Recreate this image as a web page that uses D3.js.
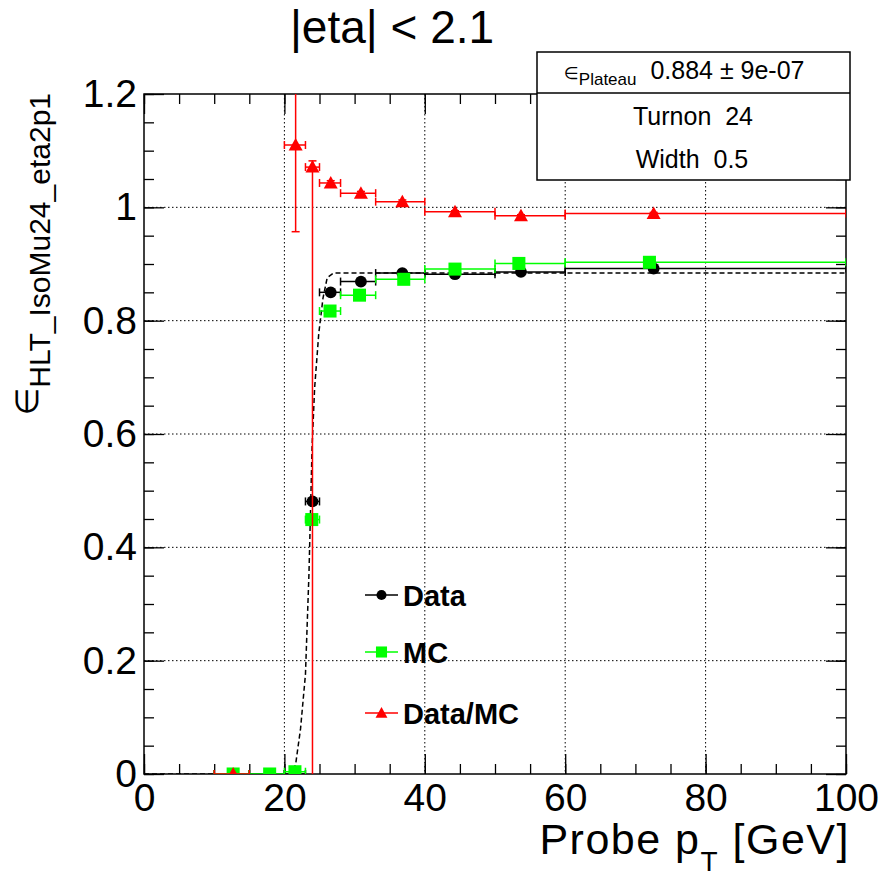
<!DOCTYPE html>
<html><head><meta charset="utf-8">
<script src="https://cdn.jsdelivr.net/npm/d3@7"></script>
<style>body{margin:0;background:#fff}svg{display:block}text{font-family:"Liberation Sans",Arial,sans-serif}</style>
</head><body><svg id="c" width="883" height="877"></svg>
<script>
// ---- data ----
const binLo = [10, 15, 20, 23, 25, 28, 33, 40, 50, 60];
const binHi = [15, 20, 23, 25, 28, 33, 40, 50, 60, 100];
const dataX = [12.7, 17.9, 21.5, 24.0, 26.6, 30.9, 36.8, 44.3, 53.7, 72.6];
const dataY = [0, 0, 0, 0.481, 0.850, 0.869, 0.884, 0.882, 0.886, 0.892];
const mcX = [12.7, 17.9, 21.5, 23.9, 26.5, 30.7, 37.0, 44.3, 53.4, 72.0];
const mcY = [0, 0, 0.004, 0.449, 0.817, 0.845, 0.873, 0.891, 0.901, 0.903];
const ratioX = [12.7, 21.6, 24.0, 26.6, 30.9, 36.8, 44.3, 53.7, 72.6];
const ratioY = [0, 1.110, 1.071, 1.043, 1.025, 1.010, 0.992, 0.985, 0.989];
const ratioLo = [10, 20, 23, 25, 28, 33, 40, 50, 60];
const ratioHi = [15, 23, 25, 28, 33, 40, 50, 60, 100];
const ratioErrDown = [0, 0.153, 1.2, 0.004, 0.003, 0.003, 0.002, 0.002, 0.002];
const ratioErrUp = [0, 0.153, 0.011, 0.004, 0.003, 0.003, 0.002, 0.002, 0.002];
const fitX = [0, 21.0, 21.6, 22.3, 23.0, 23.5, 23.95, 24.3, 24.9, 25.5, 26.1, 27.0, 100];
const fitY = [0, 0, 0.017, 0.08, 0.176, 0.354, 0.58, 0.68, 0.778, 0.84, 0.876, 0.884, 0.884];
const xTickValues = [0, 20, 40, 60, 80, 100];
const xTickLabels = ["0", "20", "40", "60", "80", "100"];
const yTickValues = [0, 0.2, 0.4, 0.6, 0.8, 1.0, 1.2];
const yTickLabels = ["0", "0.2", "0.4", "0.6", "0.8", "1", "1.2"];
const legendNames = ["Data", "MC", "Data/MC"];
const statPlateau = "0.884 \u00b1 9e-07";
const statTurnon = "Turnon  24";
const statWidth = "Width  0.5";
const titleText = "|eta| < 2.1";

// ---- drawing ----
const svg = d3.select("#c");
const L = 144, R = 846, T = 94, B = 774;
const x = d3.scaleLinear().domain([0, 100]).range([L, R]);
const y = d3.scaleLinear().domain([0, 1.2]).range([B, T]);

svg.append("defs").append("clipPath").attr("id", "clip")
  .append("rect").attr("x", L).attr("y", T).attr("width", R - L).attr("height", B - T);

// grid
const grid = svg.append("g").attr("stroke", "#000").attr("stroke-width", 1).attr("stroke-dasharray", "1.5,2.5");
xTickValues.filter(v => v > 0 && v < 100).forEach(v =>
  grid.append("line").attr("x1", x(v)).attr("x2", x(v)).attr("y1", T).attr("y2", B));
yTickValues.filter(v => v > 0 && v < 1.2).forEach(v =>
  grid.append("line").attr("x1", L).attr("x2", R).attr("y1", y(v)).attr("y2", y(v)));

// axes
const minorX = d3.range(0, 101, 5), minorY = d3.range(0, 1.2001, 0.05);
function axisGroup(gen, tx, ty) {
  const g = svg.append("g").attr("transform", `translate(${tx},${ty})`).call(gen);
  g.select(".domain").remove();
  g.selectAll("line").attr("stroke", "#000").attr("stroke-width", 1.3);
  return g;
}
axisGroup(d3.axisBottom(x).tickValues(minorX).tickSize(-10).tickFormat(""), 0, B);
axisGroup(d3.axisTop(x).tickValues(minorX).tickSize(-10).tickFormat(""), 0, T);
axisGroup(d3.axisLeft(y).tickValues(minorY).tickSize(-10).tickFormat(""), L, 0);
axisGroup(d3.axisRight(y).tickValues(minorY).tickSize(-10).tickFormat(""), R, 0);
const xb = axisGroup(d3.axisBottom(x).tickValues(xTickValues).tickSize(-20).tickPadding(9)
  .tickFormat((d, i) => xTickLabels[i]), 0, B);
xb.selectAll("text").attr("font-size", 39).attr("fill", "#000").attr("font-family", '"Liberation Sans",Arial,sans-serif');
axisGroup(d3.axisTop(x).tickValues(xTickValues).tickSize(-20).tickFormat(""), 0, T);
const yl = axisGroup(d3.axisLeft(y).tickValues(yTickValues).tickSize(-20).tickPadding(7)
  .tickFormat((d, i) => yTickLabels[i]), L, 0);
yl.selectAll("text").attr("font-size", 39).attr("fill", "#000").attr("font-family", '"Liberation Sans",Arial,sans-serif');
axisGroup(d3.axisRight(y).tickValues(yTickValues).tickSize(-20).tickFormat(""), R, 0);

// frame
svg.append("rect").attr("x", L).attr("y", T).attr("width", R - L).attr("height", B - T)
  .attr("fill", "none").attr("stroke", "#000").attr("stroke-width", 1.5);

const plot = svg.append("g").attr("clip-path", "url(#clip)");

// fit curve
plot.append("path").datum(fitX.map((v, i) => [v, fitY[i]]))
  .attr("d", d3.line().x(d => x(d[0])).y(d => y(d[1])))
  .attr("fill", "none").attr("stroke", "#000").attr("stroke-width", 1.5).attr("stroke-dasharray", "5,3");

const cap = 4;
function drawSeries(xs, ys, lo, hi, eDown, eUp, color, marker) {
  const g = plot.append("g").attr("stroke", color).attr("stroke-width", 1.5).attr("fill", "none");
  xs.forEach((xv, i) => {
    const py = y(ys[i]);
    g.append("line").attr("x1", x(lo[i])).attr("x2", x(hi[i])).attr("y1", py).attr("y2", py);
    g.append("line").attr("x1", x(lo[i])).attr("x2", x(lo[i])).attr("y1", py - cap).attr("y2", py + cap);
    g.append("line").attr("x1", x(hi[i])).attr("x2", x(hi[i])).attr("y1", py - cap).attr("y2", py + cap);
    if (eDown && (eDown[i] > 0 || eUp[i] > 0)) {
      const y1 = y(ys[i] - eDown[i]), y2 = y(ys[i] + eUp[i]), px = x(xv);
      g.append("line").attr("x1", px).attr("x2", px).attr("y1", y1).attr("y2", y2);
      g.append("line").attr("x1", px - cap).attr("x2", px + cap).attr("y1", y1).attr("y2", y1);
      g.append("line").attr("x1", px - cap).attr("x2", px + cap).attr("y1", y2).attr("y2", y2);
    }
  });
  plot.append("g").selectAll("path").data(xs).join("path")
    .attr("transform", (d, i) => `translate(${x(d)},${y(ys[i])})`)
    .attr("d", marker).attr("fill", color);
}
const circleM = d3.symbol(d3.symbolCircle, 110)();
const squareM = d3.symbol(d3.symbolSquare, 170)();
const triM = "M0,-7L7,5.5L-7,5.5Z";
drawSeries(dataX, dataY, binLo, binHi, null, null, "#000", circleM);
drawSeries(mcX, mcY, binLo, binHi, null, null, "#00ff00", squareM);
drawSeries(ratioX, ratioY, ratioLo, ratioHi, ratioErrDown, ratioErrUp, "#ff0000", triM);

// legend
const legColors = ["#000", "#00ff00", "#ff0000"];
const legMarkers = [circleM, squareM, triM];
const legY = [595, 652, 713];
legendNames.forEach((n, i) => {
  svg.append("line").attr("x1", 365).attr("x2", 398).attr("y1", legY[i]).attr("y2", legY[i])
    .attr("stroke", legColors[i]).attr("stroke-width", 1.5);
  svg.append("path").attr("d", legMarkers[i]).attr("fill", legColors[i])
    .attr("transform", `translate(381.5,${legY[i]}) scale(0.85)`);
  svg.append("text").attr("x", 403).attr("y", legY[i] + 11).attr("font-size", 29)
    .attr("font-weight", "bold").text(n);
});

// stat box
svg.append("rect").attr("x", 537).attr("y", 52).attr("width", 313).attr("height", 128)
  .attr("fill", "#fff").attr("stroke", "#000").attr("stroke-width", 1.5);
svg.append("line").attr("x1", 537).attr("x2", 850).attr("y1", 93).attr("y2", 93)
  .attr("stroke", "#000").attr("stroke-width", 1.5);
const st = svg.append("text").attr("x", 564).attr("y", 79).attr("font-size", 25).style("white-space", "pre");
st.append("tspan").attr("font-size", 17).attr("font-family", "DejaVu Sans").text("\u2208");
st.append("tspan").attr("font-size", 17).attr("dy", 6).text("Plateau");
st.append("tspan").attr("dy", -6).text("  " + statPlateau);
svg.append("text").attr("x", 693).attr("y", 125).attr("text-anchor", "middle").attr("font-size", 25)
  .style("white-space", "pre").text(statTurnon);
svg.append("text").attr("x", 692).attr("y", 168).attr("text-anchor", "middle").attr("font-size", 25)
  .style("white-space", "pre").text(statWidth);

// title
svg.append("text").attr("x", 392).attr("y", 43).attr("text-anchor", "middle").attr("font-size", 46).text(titleText);

// x axis title
const xt = svg.append("text").attr("x", 850).attr("y", 854).attr("text-anchor", "end").attr("font-size", 43)
  .attr("letter-spacing", 1.5).style("white-space", "pre");
xt.append("tspan").text("Probe p");
xt.append("tspan").attr("font-size", 28).attr("dy", 17).text("T");
xt.append("tspan").attr("dy", -17).text(" [GeV]");

// y axis title
const yt = svg.append("text").attr("transform", "translate(38,93) rotate(-90)").attr("text-anchor", "end");
yt.append("tspan").attr("font-size", 32).attr("font-family", "DejaVu Sans").text("\u2208");
yt.append("tspan").attr("font-size", 30).attr("dy", 12).text("HLT_IsoMu24_eta2p1");
</script></body></html>
